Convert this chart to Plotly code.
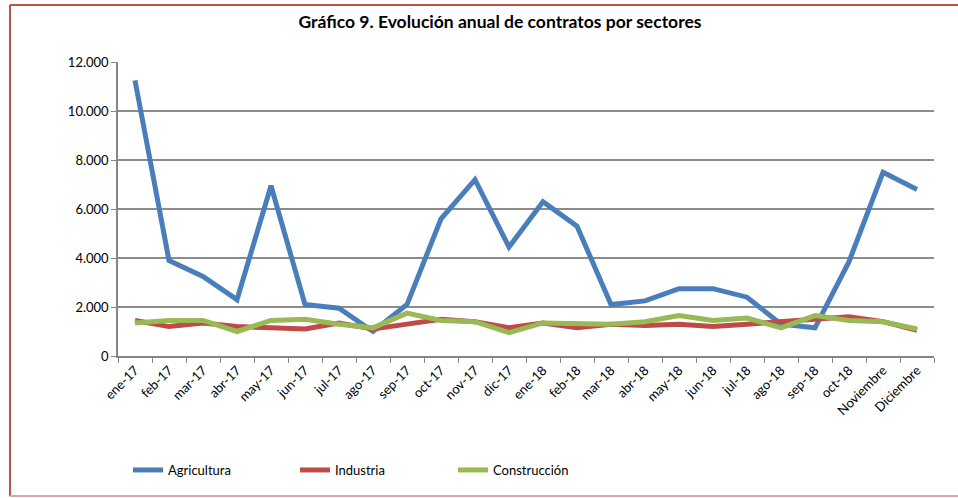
import plotly.graph_objects as go

categories = ["ene-17", "feb-17", "mar-17", "abr-17", "may-17", "jun-17", "jul-17", "ago-17",
              "sep-17", "oct-17", "nov-17", "dic-17", "ene-18", "feb-18", "mar-18", "abr-18",
              "may-18", "jun-18", "jul-18", "ago-18", "sep-18", "oct-18", "Noviembre", "Diciembre"]

agricultura = [11250, 3900, 3250, 2300, 6950, 2100, 1950, 1000, 2100, 5600, 7200, 4450,
               6300, 5300, 2100, 2250, 2750, 2750, 2400, 1300, 1150, 3850, 7500, 6800]
industria = [1450, 1200, 1350, 1200, 1150, 1100, 1350, 1100, 1300, 1500, 1400, 1150,
             1350, 1150, 1300, 1250, 1300, 1200, 1300, 1400, 1450, 1600, 1400, 1050]
construccion = [1350, 1450, 1450, 1000, 1450, 1500, 1300, 1150, 1750, 1450, 1400, 950,
                1350, 1350, 1300, 1400, 1650, 1450, 1550, 1150, 1650, 1450, 1400, 1100]

y_ticks = [0, 2000, 4000, 6000, 8000, 10000, 12000]

series_names = ["Agricultura", "Industria", "Construcción"]
colors = ["#4A7EBB", "#BE4B48", "#98B954"]

W, H = 958, 498
L, R, T, B = 118, 24, 62, 142
pw, ph = W - L - R, H - T - B

def px_to_paper_x(px):
    return (px - L) / pw

def px_to_paper_y(py):
    return (H - B - py) / ph

fig = go.Figure()
for i, (name, vals) in enumerate(zip(series_names, [agricultura, industria, construccion])):
    fig.add_trace(go.Scatter(
        x=categories, y=vals, name=name, mode="lines",
        line=dict(color=colors[i], width=5),
        legend="legend" if i == 0 else f"legend{i+1}",
        showlegend=True,
    ))

font_family = "Lato, 'Open Sans', sans-serif"
legend_common = dict(orientation="h", xanchor="left", yanchor="middle",
                     bgcolor="rgba(0,0,0,0)", font=dict(family=font_family, size=13, color="#000"))
leg_y = px_to_paper_y(470)

bx0, bx1 = px_to_paper_x(10), px_to_paper_x(958)
by0, by1 = px_to_paper_y(496), px_to_paper_y(5)
border = [
    dict(x0=bx0, x1=bx1, y0=by1, y1=by1, color="#C0504D"),
    dict(x0=bx0, x1=bx0, y0=by0, y1=by1, color="#C0504D"),
    dict(x0=bx0, x1=bx1, y0=by0, y1=by0, color="#E3A3A1"),
]
shapes = [dict(type="line", xref="paper", yref="paper", x0=b["x0"], x1=b["x1"],
               y0=b["y0"], y1=b["y1"], line=dict(color=b["color"], width=2), layer="below")
          for b in border]

fig.update_layout(
    width=W, height=H,
    showlegend=True,
    margin=dict(l=L, r=R, t=T, b=B, autoexpand=False),
    paper_bgcolor="white", plot_bgcolor="white",
    separators=",.",
    title=dict(text="<b>Gráfico 9. Evolución anual de contratos por sectores</b>",
               x=px_to_paper_x(500), xref="paper", xanchor="center",
               y=1 - 22 / H, yref="container", yanchor="middle",
               font=dict(family=font_family, size=17.5, color="#000")),
    legend=dict(x=px_to_paper_x(128), y=leg_y, **legend_common),
    legend2=dict(x=px_to_paper_x(295), y=leg_y, **legend_common),
    legend3=dict(x=px_to_paper_x(453), y=leg_y, **legend_common),
    xaxis=dict(
        type="category", tickangle=-45, tickson="boundaries",
        ticks="outside", ticklen=5, tickcolor="#868686",
        showline=True, linecolor="#868686", linewidth=1.5,
        showgrid=False,
        tickfont=dict(family=font_family, size=13, color="#000"),
        range=[-0.5, len(categories) - 0.5],
    ),
    yaxis=dict(
        range=[0, 12000], tickvals=y_ticks, tickformat=",d",
        ticks="outside", ticklen=5, tickcolor="#868686",
        showline=True, linecolor="#868686", linewidth=1.5,
        showgrid=True, gridcolor="#8C8C8C", gridwidth=1.5,
        zeroline=False,
        tickfont=dict(family=font_family, size=13, color="#000"),
    ),
    shapes=shapes,
)

fig.write_html("out.html",
               config={"displayModeBar": False},
               post_script="document.body.style.margin='0';document.body.style.overflow='hidden';")
